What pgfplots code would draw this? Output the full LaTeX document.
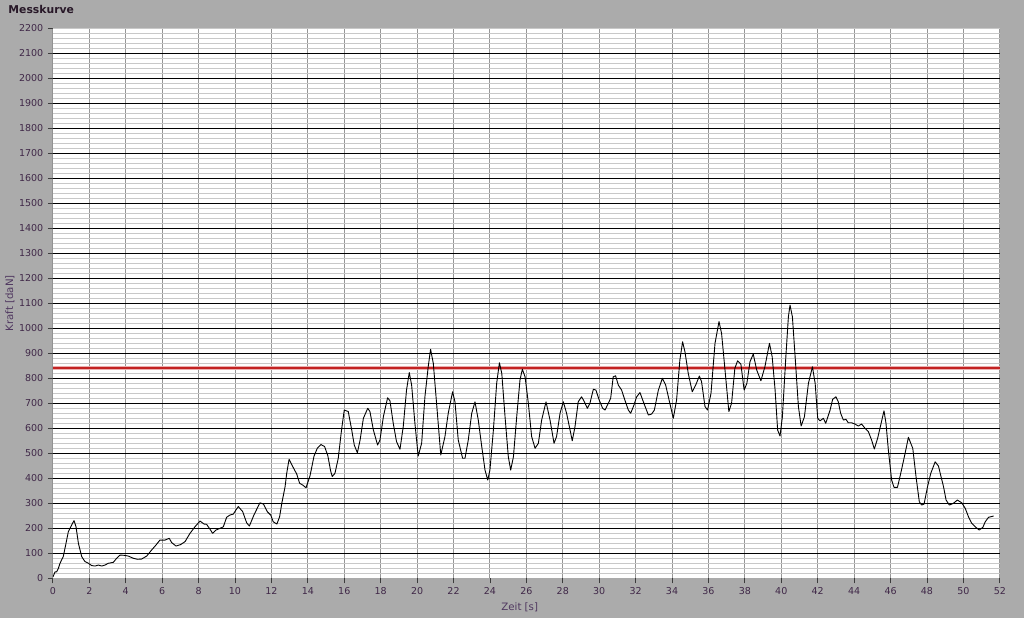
\documentclass[border=0pt]{standalone}
\usepackage{fontspec}
\setmainfont{DejaVu Sans}
\usepackage{pgfplots}
\pgfplotsset{compat=1.18}
\definecolor{bg}{RGB}{171,171,171}
\definecolor{ticklab}{RGB}{64,40,72}
\definecolor{ylab}{RGB}{80,56,96}
\definecolor{titlecol}{RGB}{40,24,40}
\definecolor{vgrid}{RGB}{150,150,150}
\definecolor{mgrid}{RGB}{200,200,200}
\definecolor{redline}{RGB}{195,35,35}
\definecolor{redhalo}{RGB}{235,175,175}
\definecolor{tickcol}{RGB}{60,60,60}
\begin{document}
\begin{tikzpicture}[x=1pt,y=1pt]
\fill[bg] (0,0) rectangle (1024,618);
\useasboundingbox (0,0) rectangle (1024,618);
\node[anchor=base west, font=\bfseries\fontsize{10.8}{12}\selectfont, text=titlecol, inner sep=0pt] at (8.3,604.7) {Messkurve};
\begin{axis}[
  at={(52.9pt,39.7pt)}, anchor=south west,
  scale only axis, width=946.9pt, height=550pt,
  xmin=0, xmax=52, ymin=0, ymax=2200,
  xtick={0,2,...,52}, ytick={0,100,...,2200},
  /pgf/number format/assume math mode=true,
  /pgf/number format/1000 sep={},
  minor y tick num=4,
  xmajorgrids=true, yminorgrids=true,
  major x grid style={draw=vgrid, line width=0.9pt},
  minor y grid style={draw=mgrid, line width=0.9pt},
  extra y ticks={100,200,...,2100},
  extra y tick labels={},
  extra y tick style={ymajorgrids=true, major tick length=0pt, major y grid style={draw=black, line width=1pt}},
  axis line style={draw=none},
  axis background/.style={fill=white},
  tick align=outside, tickpos=left,
  major tick length=5pt, minor tick length=0pt,
  tick style={draw=tickcol, line width=0.8pt},
  tick label style={font=\fontsize{9.5}{10}\selectfont, text=ticklab, inner sep=0pt},
  yticklabel shift=4.5pt, xticklabel shift=4pt,
  xlabel={Zeit [s]}, ylabel={Kraft [daN]},
  label style={font=\fontsize{10.2}{11}\selectfont, text=ylab},
  xlabel style={at={(axis description cs:0.493,-0.0522)}, anchor=center},
  ylabel style={at={(axis description cs:-0.0453,0.5)}, anchor=center},
]
\draw[draw=gray, line width=1pt] (rel axis cs:0,0) -- (rel axis cs:0,1);
\draw[draw=mgrid, line width=1pt] (rel axis cs:0,1) -- (rel axis cs:1,1);
\addplot[draw=redhalo, line width=3.6pt, forget plot] coordinates {(0,840) (52,840)};
\addplot[draw=redline, line width=1.8pt, forget plot] coordinates {(0,840) (52,840)};
\addplot[draw=black, line width=0.9pt, line join=round] coordinates {
(0.00,5) (0.12,26) (0.21,26) (0.30,40) (0.39,60) (0.57,87) (0.72,140) (0.85,187) (0.98,206) (1.16,231)
(1.27,206) (1.40,140) (1.58,87) (1.76,67) (1.95,60) (2.13,51) (2.31,49) (2.50,53) (2.68,49) (2.86,53)
(3.04,60) (3.32,64) (3.50,80) (3.69,93) (3.90,92) (4.14,89) (4.42,80) (4.64,76) (4.87,77) (5.15,89)
(5.42,113) (5.66,133) (5.88,153) (6.16,153) (6.39,160) (6.52,143) (6.76,129) (7.02,135) (7.26,147) (7.53,180)
(7.80,206) (8.08,229) (8.30,217) (8.44,216) (8.63,196) (8.77,180) (8.96,193) (9.18,200) (9.36,206) (9.54,244)
(9.72,253) (9.91,257) (10.05,273) (10.18,287) (10.42,267) (10.64,222) (10.79,209) (11.05,255) (11.37,302) (11.56,297)
(11.78,266) (11.96,253) (12.10,226) (12.30,217) (12.45,246) (12.57,300) (12.75,366) (12.84,420) (12.97,476) (13.20,443)
(13.39,417) (13.55,380) (13.72,373) (13.90,362) (14.12,410) (14.34,489) (14.52,520) (14.72,535) (14.92,527) (15.10,490)
(15.25,430) (15.34,407) (15.49,420) (15.67,480) (15.85,593) (16.00,673) (16.22,667) (16.41,593) (16.55,533) (16.72,502)
(16.87,553) (17.05,640) (17.29,680) (17.41,667) (17.60,593) (17.83,533) (17.96,553) (18.15,647) (18.38,722) (18.51,710)
(18.69,620) (18.87,547) (19.06,516) (19.24,607) (19.42,753) (19.57,823) (19.70,773) (19.88,620) (20.06,489) (20.25,540)
(20.43,726) (20.61,846) (20.74,916) (20.89,860) (21.07,700) (21.30,493) (21.53,567) (21.71,660) (21.95,746) (22.08,706)
(22.26,553) (22.50,480) (22.63,480) (22.81,553) (23.00,660) (23.18,706) (23.36,633) (23.55,527) (23.73,433) (23.88,393)
(24.00,433) (24.19,593) (24.37,780) (24.52,862) (24.65,820) (24.83,646) (25.01,486) (25.14,433) (25.29,486) (25.47,646)
(25.65,793) (25.78,836) (25.93,806) (26.11,700) (26.29,567) (26.48,520) (26.66,540) (26.84,633) (27.08,706) (27.30,633)
(27.52,540) (27.66,567) (27.85,660) (28.03,706) (28.21,660) (28.40,593) (28.52,550) (28.67,606) (28.85,706) (29.03,726)
(29.16,710) (29.35,680) (29.49,700) (29.68,756) (29.82,753) (30.00,713) (30.19,680) (30.32,673) (30.50,700) (30.63,720)
(30.77,806) (30.90,810) (31.05,773) (31.23,753) (31.41,713) (31.60,673) (31.73,660) (31.91,693) (32.05,725) (32.24,743)
(32.42,707) (32.70,653) (32.88,657) (33.03,673) (33.25,753) (33.47,800) (33.65,773) (33.88,700) (34.07,640) (34.25,713)
(34.43,873) (34.58,946) (34.71,906) (34.89,820) (35.11,746) (35.30,773) (35.50,809) (35.62,787) (35.81,687) (35.95,673)
(36.14,740) (36.36,940) (36.58,1027) (36.72,980) (36.91,833) (37.12,667) (37.27,700) (37.45,840) (37.60,870) (37.78,857)
(37.96,753) (38.11,780) (38.28,866) (38.46,897) (38.65,833) (38.88,790) (39.10,846) (39.35,940) (39.50,886) (39.66,753)
(39.80,593) (39.93,569) (40.06,646) (40.25,886) (40.39,1046) (40.48,1093) (40.61,1046) (40.76,886) (40.94,687) (41.09,609)
(41.27,646) (41.49,780) (41.71,846) (41.86,780) (42.00,640) (42.13,630) (42.31,640) (42.44,620) (42.68,673) (42.82,716)
(43.00,726) (43.13,706) (43.26,660) (43.41,633) (43.55,636) (43.68,622) (43.86,622) (44.05,617) (44.23,609) (44.41,617)
(44.60,600) (44.78,587) (44.96,553) (45.11,517) (45.29,560) (45.46,613) (45.64,670) (45.75,620) (45.88,513) (46.06,393)
(46.19,364) (46.38,364) (46.56,420) (46.80,500) (46.98,564) (47.22,520) (47.40,406) (47.58,306) (47.71,293) (47.84,297)
(48.03,366) (48.21,420) (48.45,466) (48.63,449) (48.91,366) (49.05,313) (49.23,293) (49.45,300) (49.67,313) (49.91,302)
(50.10,280) (50.28,246) (50.46,220) (50.65,206) (50.87,193) (51.07,204) (51.20,226) (51.38,244) (51.66,249)
};
\end{axis}
\end{tikzpicture}
\end{document}
